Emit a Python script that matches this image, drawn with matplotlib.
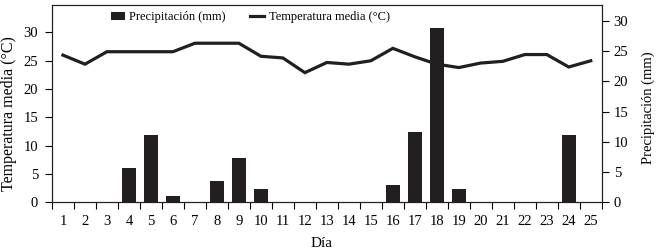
import numpy as np
import matplotlib
matplotlib.use("Agg")
import matplotlib.pyplot as plt
from matplotlib.ticker import MultipleLocator

plt.rcParams['font.family'] = ['Liberation Serif', 'DejaVu Serif']
plt.rcParams['font.size'] = 10.5

dias = list(range(1, 26))
temperatura = [26.0, 24.4, 26.6, 26.6, 26.6, 26.6, 28.1, 28.1, 28.1, 25.8,
               25.5, 22.9, 24.7, 24.4, 25.0, 27.2, 25.7, 24.4, 23.8, 24.6,
               24.9, 26.1, 26.1, 23.9, 25.0]
precipitacion = [0, 0, 0, 5.7, 11.1, 1.0, 0, 3.5, 7.3, 2.2,
                 0, 0, 0, 0, 0, 2.9, 11.6, 28.8, 2.2, 0,
                 0, 0, 0, 11.1, 0]

color = '#231f20'

fig = plt.figure(figsize=(6.62, 2.5), dpi=100)
ax = fig.add_axes([0.0785, 0.191, 0.8305, 0.79])
ax2 = ax.twinx()

ax.plot(dias, temperatura, color=color, lw=2.3, solid_joinstyle='miter',
        label='Temperatura media (°C)')
barras = ax2.bar(dias, precipitacion, width=0.63, color=color,
                 label='Precipitación (mm)')

ax.set_xlim(0.5, 25.5)
ax.set_ylim(0, 34.9)
ax2.set_ylim(0, 32.7)

ax.set_xticks(dias)
ax.xaxis.set_minor_locator(MultipleLocator(1, offset=0.5))
ax.tick_params(axis='x', which='major', length=0, pad=9)
ax.tick_params(axis='x', which='minor', length=5, width=0.8, direction='out')
ax.set_yticks(range(0, 31, 5))
ax2.set_yticks(range(0, 31, 5))
ax.tick_params(axis='y', length=5, width=0.8, pad=5)
ax2.tick_params(axis='y', length=5, width=0.8, pad=3.5)

for a in (ax, ax2):
    for s in a.spines.values():
        s.set_linewidth(0.8)
        s.set_color(color)

ax.set_xlabel('Día', fontsize=11)
ax.set_ylabel('Temperatura media (°C)', fontsize=11.5)
ax2.set_ylabel('Precipitación (mm)', fontsize=10.5)
ax.xaxis.set_label_coords(0.491, -0.175)
ax.yaxis.set_label_coords(-0.064, 0.449)
ax2.yaxis.set_label_coords(1.072, 0.477)

lin = ax.get_lines()[0]
fig.legend([barras, lin], ['Precipitación (mm)', 'Temperatura media (°C)'],
           ncol=2, frameon=False, loc='center', bbox_to_anchor=(0.378, 0.932),
           fontsize=9, handlelength=1.1, handleheight=0.6, handletextpad=0.35,
           columnspacing=2.0, borderaxespad=0)

fig.savefig('out.png', dpi=100)
